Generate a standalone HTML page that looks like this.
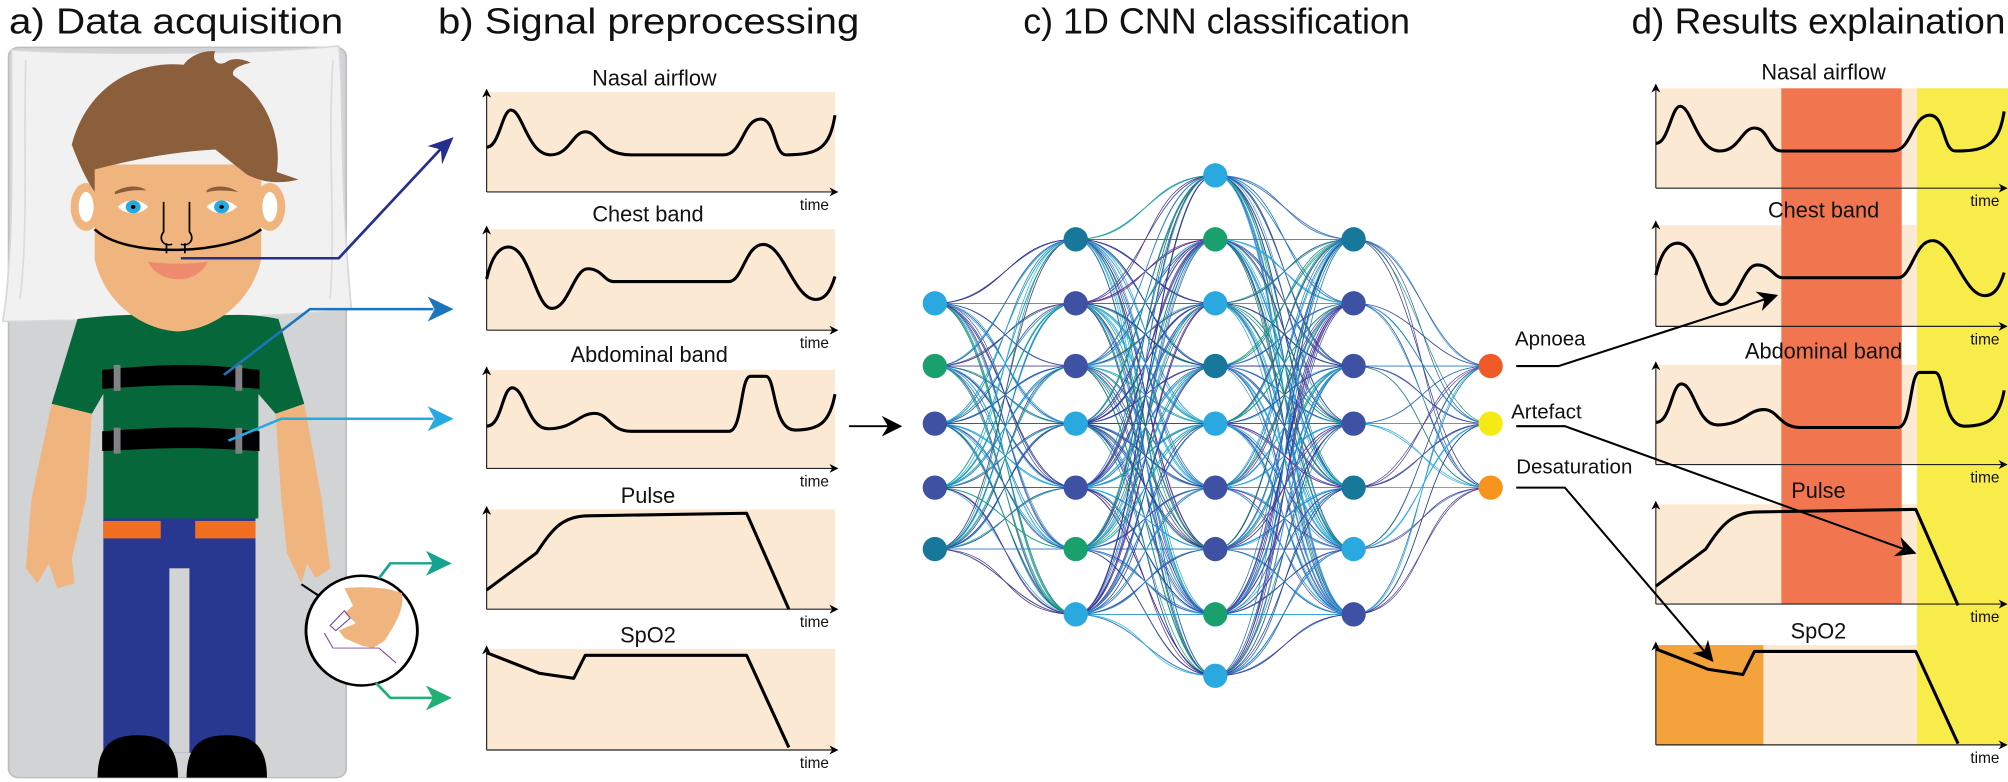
<!DOCTYPE html>
<html><head><meta charset="utf-8"><style>
html,body{margin:0;padding:0;background:#fff;}
svg{display:block;}
text{font-family:"Liberation Sans",sans-serif;fill:#111;}
</style></head><body>
<svg id="s" width="2008" height="782" viewBox="0 0 1568 611" preserveAspectRatio="none" xmlns="http://www.w3.org/2000/svg">
<defs>
<marker id="ah" viewBox="0 0 10 10" refX="9" refY="5" markerWidth="7" markerHeight="7" orient="auto" markerUnits="userSpaceOnUse"><path d="M0,0 L10,5 L0,10 L3,5 Z" fill="#000"/></marker>
<marker id="ahb" viewBox="0 0 10 10" refX="9" refY="5" markerWidth="16" markerHeight="16" orient="auto" markerUnits="userSpaceOnUse"><path d="M0,0 L10,5 L0,10 L3,5 Z" fill="#000"/></marker>
</defs>
<!-- titles -->
<text x="7" y="26" font-size="28" textLength="261" lengthAdjust="spacingAndGlyphs">a) Data acquisition</text>
<text x="342" y="26" font-size="28" textLength="329" lengthAdjust="spacingAndGlyphs">b) Signal preprocessing</text>
<text x="799" y="26" font-size="28" textLength="302" lengthAdjust="spacingAndGlyphs">c) 1D CNN classification</text>
<text x="1274" y="26" font-size="28" textLength="292" lengthAdjust="spacingAndGlyphs">d) Results explaination</text>

<!-- person (zoom coords) -->
<g transform="scale(0.4483 0.3895)">
<rect x="15" y="95" width="588" height="1465" rx="18" fill="#d1d3d4" stroke="#bcbec0" stroke-width="3"/>
<path d="M20,100 C150,110 450,110 590,92 C600,200 590,350 612,620 C450,640 200,640 5,645 C25,500 20,300 20,100 Z" fill="#f1f1f2" stroke="#d7d8da" stroke-width="3"/>
<path d="M45,120 C40,300 50,450 35,600 M580,120 C570,300 585,450 575,600" stroke="#dcdcdc" stroke-width="3" fill="none"/>
<!-- arms -->
<path d="M90,810 L160,830 L150,1000 L125,1120 L130,1170 L100,1180 L85,1130 L65,1170 L45,1140 L55,1000 Z" fill="#f0b47e"/>
<path d="M480,830 L530,810 L560,1000 L575,1140 L550,1160 L535,1130 L525,1170 L500,1110 L490,1000 Z" fill="#f0b47e"/>
<!-- neck -->
<rect x="265" y="590" width="90" height="80" fill="#f0b47e"/>
<!-- shirt -->
<path d="M135,640 C200,630 250,630 265,635 C285,670 335,670 355,635 C400,630 450,630 485,640 L530,810 L480,830 L450,790 L450,1040 L180,1040 L180,790 L160,830 L90,810 Z" fill="#05673a"/>
<!-- belts -->
<path d="M178,742 C300,728 350,730 452,742 L452,780 C350,770 300,770 178,780 Z" fill="#000"/>
<path d="M178,865 C300,855 350,855 452,865 L452,905 C350,897 300,897 178,905 Z" fill="#000"/>
<rect x="198" y="732" width="12" height="52" fill="#808285"/><rect x="410" y="732" width="12" height="52" fill="#808285"/>
<rect x="198" y="858" width="12" height="52" fill="#808285"/><rect x="410" y="858" width="12" height="52" fill="#808285"/>
<!-- pants -->
<rect x="180" y="1040" width="265" height="470" fill="#283891"/>
<rect x="295" y="1140" width="35" height="370" fill="#d1d3d4"/>
<rect x="180" y="1045" width="100" height="35" fill="#f26f21"/>
<rect x="340" y="1045" width="105" height="35" fill="#f26f21"/>
<path d="M170,1560 C170,1490 200,1475 240,1475 C280,1475 310,1490 310,1560 Z" fill="#000"/>
<path d="M325,1560 C325,1490 355,1475 395,1475 C435,1475 465,1490 465,1560 Z" fill="#000"/>
<!-- head -->
<ellipse cx="150" cy="415" rx="27" ry="48" fill="#f0b47e"/><ellipse cx="150" cy="415" rx="13" ry="30" fill="#fff"/>
<ellipse cx="470" cy="415" rx="27" ry="48" fill="#f0b47e"/><ellipse cx="470" cy="415" rx="13" ry="30" fill="#fff"/>
<path d="M165,330 L455,330 L455,520 C440,600 380,660 310,665 C240,660 180,600 165,520 Z" fill="#f0b47e"/>
<path d="M125,290 C150,180 230,120 320,130 C330,112 355,100 375,103 C368,120 378,132 392,126 C402,116 420,116 437,126 C412,132 402,142 407,152 C462,192 492,272 482,345 L520,360 C480,372 450,362 430,350 L375,300 C300,305 230,320 165,340 L165,385 C150,360 138,330 125,290 Z" fill="#8b5e3c"/>
<path d="M200,385 C220,370 245,372 255,382 C240,380 220,382 200,390 Z M360,382 C370,372 395,370 415,385 C395,382 375,380 360,386 Z" fill="#8b5e3c"/>
<path d="M205,415 C220,398 245,398 258,415 C245,432 220,432 205,415 Z" fill="#fff"/><ellipse cx="232" cy="415" rx="13" ry="13" fill="#27aae1"/><circle cx="232" cy="415" r="4" fill="#000"/>
<path d="M360,415 C373,398 398,398 413,415 C398,432 373,432 360,415 Z" fill="#fff"/><ellipse cx="386" cy="415" rx="13" ry="13" fill="#27aae1"/><circle cx="386" cy="415" r="4" fill="#000"/>
<path d="M285,405 L285,465 C275,480 285,495 300,490 M330,405 L330,465 C340,480 330,495 315,490" stroke="#000" stroke-width="3" fill="none"/>
<path d="M165,460 C220,520 400,510 455,460" stroke="#000" stroke-width="5" fill="none"/>
<path d="M290,488 L290,508 M322,488 L322,508" stroke="#000" stroke-width="3"/>
<path d="M258,525 C290,530 330,530 362,525 C350,555 320,562 310,560 C290,560 268,550 258,525 Z" fill="#ee8b6f"/>
<!-- magnifier -->
<line x1="525" y1="1172" x2="555" y2="1195" stroke="#000" stroke-width="4"/>
<ellipse cx="630" cy="1265" rx="97" ry="110" fill="#fff" stroke="#000" stroke-width="5"/>
<path d="M600,1180 C640,1175 680,1180 700,1190 C705,1220 690,1250 670,1285 L650,1300 L630,1295 L600,1280 L590,1265 L620,1250 L600,1230 L615,1215 Z" fill="#f0b47e"/>
<path d="M575,1255 L600,1225 L610,1240 L585,1265 Z M565,1270 L580,1300 L660,1300 L690,1330" stroke="#7b4ba0" stroke-width="2" fill="none"/>
<!-- arrows from person -->
<g fill="none" stroke-width="5">
<polyline points="315,518 590,518 770,296" stroke="#262f8e"/>
<polyline points="390,752 540,620 755,620" stroke="#1c75bc"/>
<polyline points="398,884 490,840 755,840" stroke="#27aae1"/>
<polyline points="660,1160 680,1130 755,1130" stroke="#17a38f"/>
<polyline points="655,1370 680,1400 755,1400" stroke="#20b073"/>
</g>
<path d="M790,275 L770,330 L768,300 L745,293 Z" fill="#262f8e"/>
<path d="M790,620 L745,595 L757,620 L745,645 Z" fill="#1c75bc"/>
<path d="M790,840 L745,815 L757,840 L745,865 Z" fill="#27aae1"/>
<path d="M787,1130 L742,1105 L754,1130 L742,1155 Z" fill="#17a38f"/>
<path d="M787,1400 L742,1375 L754,1400 L742,1425 Z" fill="#20b073"/>
</g>

<!-- panel b -->
<g id="pb">
<rect x="380" y="72" width="272" height="78" fill="#fce9d3"/>
<rect x="380" y="179" width="272" height="79" fill="#fce9d3"/>
<rect x="380" y="289" width="272" height="77" fill="#fce9d3"/>
<rect x="380" y="398" width="272" height="78" fill="#fce9d3"/>
<rect x="380" y="507" width="272" height="79" fill="#fce9d3"/>
</g>
<g stroke="#222" stroke-width="0.9" fill="none" marker-end="url(#ah)">
<line x1="380" y1="150" x2="380" y2="70"/><line x1="380" y1="150" x2="654" y2="150"/>
<line x1="380" y1="258" x2="380" y2="177"/><line x1="380" y1="258" x2="654" y2="258"/>
<line x1="380" y1="366" x2="380" y2="287"/><line x1="380" y1="366" x2="654" y2="366"/>
<line x1="380" y1="476" x2="380" y2="396"/><line x1="380" y1="476" x2="654" y2="476"/>
<line x1="380" y1="586" x2="380" y2="505"/><line x1="380" y1="586" x2="654" y2="586"/>
</g>
<g id="wb" stroke="#000" stroke-width="2.4" fill="none" stroke-linejoin="round">
<path d="M380,115 C390,115 392,86 399,86 C408,86 412,121 430,121 C445,121 447,103 457,103 C468,103 468,121 493,121 L565,121 C580,121 580,93 594,93 C606,93 604,121 614,121 C640,121 648,115 652,90"/>
<path d="M380,218 C384,200 390,193 397,193 C414,193 418,241 431,241 C444,241 448,210 459,210 C470,210 472,220 479,220 L569,220 C580,220 582,191 596,191 C612,191 620,234 637,234 C645,234 649,226 652,216"/>
<path d="M380,333 C392,333 392,303 400,303 C410,303 412,335 428,335 C448,335 452,323 464,323 C476,323 476,337 493,337 L569,337 C580,337 578,294 586,294 L598,294 C606,294 603,336 621,336 C640,336 648,330 652,308"/>
<path d="M380,461 L419,432 C432,412 440,403 460,403 L583,401 L616,476"/>
<path d="M380,510 L421,526 L448,530 L457,512 L583,512 L616,584"/>
</g>
<g font-size="17" text-anchor="middle">
<text x="511" y="67">Nasal airflow</text><text x="506" y="173">Chest band</text><text x="507" y="283">Abdominal band</text><text x="506" y="393">Pulse</text><text x="506" y="502">SpO2</text>
</g>
<g font-size="12" text-anchor="middle">
<text x="636" y="164">time</text><text x="636" y="272">time</text><text x="636" y="380">time</text><text x="636" y="490">time</text><text x="636" y="600">time</text>
</g>
<line x1="663" y1="333" x2="703" y2="333" stroke="#000" stroke-width="1.5" marker-end="url(#ahb)"/>

<!-- network -->
<g id="edges" fill="none" stroke-width="0.55"></g>
<g id="nodes"></g>
<g font-size="16"><text x="1183" y="270">Apnoea</text><text x="1180" y="327">Artefact</text><text x="1184" y="370">Desaturation</text></g>

<!-- panel d -->
<g>
<rect x="1293" y="69" width="272" height="78" fill="#fce9d3"/>
<rect x="1293" y="176" width="272" height="79" fill="#fce9d3"/>
<rect x="1293" y="285" width="272" height="78" fill="#fce9d3"/>
<rect x="1293" y="394" width="272" height="78" fill="#fce9d3"/>
<rect x="1293" y="504" width="272" height="78" fill="#fce9d3"/>
<rect x="1391" y="69" width="94" height="403" fill="#f17650"/>
<rect x="1497" y="69" width="71" height="513" fill="#f8ec4a"/>
<rect x="1293" y="504" width="84" height="78" fill="#f4a23c"/>
</g>
<g stroke="#222" stroke-width="0.9" fill="none" marker-end="url(#ah)">
<line x1="1293" y1="147" x2="1293" y2="66"/><line x1="1293" y1="147" x2="1567" y2="147"/>
<line x1="1293" y1="255" x2="1293" y2="173"/><line x1="1293" y1="255" x2="1567" y2="255"/>
<line x1="1293" y1="363" x2="1293" y2="283"/><line x1="1293" y1="363" x2="1567" y2="363"/>
<line x1="1293" y1="472" x2="1293" y2="392"/><line x1="1293" y1="472" x2="1567" y2="472"/>
<line x1="1293" y1="582" x2="1293" y2="502"/><line x1="1293" y1="582" x2="1567" y2="582"/>
</g>
<g transform="translate(913,-3)" stroke="#000" stroke-width="2.4" fill="none" stroke-linejoin="round">
<path d="M380,115 C390,115 392,86 399,86 C408,86 412,121 430,121 C445,121 447,103 457,103 C468,103 468,121 478,121 L565,121 C580,121 580,93 594,93 C606,93 604,121 614,121 C640,121 648,115 652,90"/>
<path d="M380,218 C384,200 390,193 397,193 C414,193 418,241 431,241 C444,241 448,210 459,210 C470,210 472,220 479,220 L569,220 C580,220 582,191 596,191 C612,191 620,234 637,234 C645,234 649,226 652,216"/>
<path d="M380,333 C392,333 392,303 400,303 C410,303 412,335 428,335 C448,335 452,323 464,323 C476,323 476,337 493,337 L569,337 C580,337 578,294 586,294 L598,294 C606,294 603,336 621,336 C640,336 648,330 652,308"/>
<path d="M380,461 L419,432 C432,412 440,403 460,403 L583,401 L616,476"/>
<path d="M380,510 L421,526 L448,530 L457,512 L583,512 L616,584"/>
</g>
<g font-size="17" text-anchor="middle">
<text x="1424" y="62">Nasal airflow</text><text x="1424" y="170">Chest band</text><text x="1424" y="280">Abdominal band</text><text x="1420" y="389">Pulse</text><text x="1420" y="499">SpO2</text>
</g>
<g font-size="12" text-anchor="middle">
<text x="1550" y="161">time</text><text x="1550" y="269">time</text><text x="1550" y="377">time</text><text x="1550" y="486">time</text><text x="1550" y="596">time</text>
</g>
<g stroke="#000" stroke-width="1.6" fill="none" marker-end="url(#ahb)">
<polyline points="1184,286 1217,286 1387,231"/>
<polyline points="1184,333 1222,333 1495,432"/>
<polyline points="1184,381 1222,381 1337,516"/>
</g>
</svg>
<script>
(function(){
var NS="http://www.w3.org/2000/svg";
var LB="#29a9e0",GR="#1aa06d",DB="#3f51a3",TL="#17789c";
var L=[
 {x:730,n:[[237,LB],[286,GR],[331,DB],[381,DB],[429,TL]]},
 {x:840,n:[[187,TL],[237,DB],[286,DB],[331,LB],[381,DB],[429,GR],[480,LB]]},
 {x:949,n:[[137,LB],[187,GR],[237,LB],[286,TL],[331,LB],[381,DB],[429,DB],[480,GR],[528,LB]]},
 {x:1057,n:[[187,TL],[237,DB],[286,DB],[331,DB],[381,TL],[429,LB],[480,DB]]},
 {x:1164,n:[[286,"#f05a28"],[331,"#f5ea14"],[381,"#f7941d"]]}
];
var cols=["#29a9e0","#3f51a3","#1aa06d","#2e3192","#662d91","#1c75bc","#27aae1"];
var eg=document.getElementById("edges"),ng=document.getElementById("nodes");
var seed=7;function r(){seed=(seed*9301+49297)%233280;return seed/233280;}
for(var k=0;k<4;k++){
 var a=L[k],b=L[k+1],xm=(a.x+b.x)/2;
 for(var i=0;i<a.n.length;i++)for(var j=0;j<b.n.length;j++){
  var reps=k==3?2:3;
  for(var t=0;t<reps;t++){
   var p=document.createElementNS(NS,"path");
   var y1=a.n[i][0],y2=b.n[j][0],d=(r()-0.5)*14;
   p.setAttribute("d","M"+a.x+","+y1+" C"+(xm+d)+","+y1+" "+(xm-d)+","+y2+" "+b.x+","+y2);
   p.setAttribute("stroke",cols[Math.floor(r()*cols.length)]);
   eg.appendChild(p);
  }
 }
}
L.forEach(function(l){l.n.forEach(function(n){
 var c=document.createElementNS(NS,"circle");
 c.setAttribute("cx",l.x);c.setAttribute("cy",n[0]);c.setAttribute("r",9.5);c.setAttribute("fill",n[1]);ng.appendChild(c);
});});
})();
</script>
</body></html>
